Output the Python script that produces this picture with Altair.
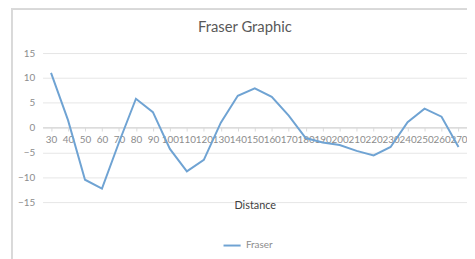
import altair as alt
import pandas as pd

distance = [30, 40, 50, 60, 70, 80, 90, 100, 110, 120, 130, 140, 150, 160, 170,
            180, 190, 200, 210, 220, 230, 240, 250, 260, 270]
fraser = [11, 1.5, -10.5, -12.3, -3, 5.8, 3.1, -4.3, -8.8, -6.5, 1, 6.4, 7.9, 6.2, 2.4,
          -2.1, -3.0, -3.5, -4.7, -5.6, -3.9, 1.1, 3.8, 2.2, -3.9]
series = ["Fraser"] * len(distance)

df = pd.DataFrame({"Distance": [str(d) for d in distance], "Value": fraser, "Series": series})

label_font = "Lato"
grey = "#8c8c8c"

line = alt.Chart(df).mark_line(strokeWidth=2).encode(
    x=alt.X("Distance:N", sort=None,
            scale=alt.Scale(type="point", padding=0.5),
            axis=alt.Axis(title="Distance", offset=-76, labelAngle=0, labelOverlap=False,
                          labelFontSize=10, labelColor=grey, labelFont=label_font,
                          labelPadding=4, domainColor="#d9d9d9", tickColor="#d9d9d9",
                          tickSize=4, ticks=True, bandPosition=0,
                          titlePadding=55, titleFont=label_font, titleFontSize=11,
                          titleFontWeight="normal", titleColor="#404040")),
    y=alt.Y("Value:Q", scale=alt.Scale(domain=[-15, 15], nice=False),
            axis=alt.Axis(title=None, values=[-15, -10, -5, 0, 5, 10, 15], grid=True,
                          gridColor="#e6e6e6", domain=False, ticks=False,
                          labelFontSize=10, labelColor=grey, labelFont=label_font,
                          labelPadding=8)),
    color=alt.Color("Series:N", scale=alt.Scale(range=["#6fa3d3"]),
                    legend=alt.Legend(title=None, orient="none", legendX=182, legendY=185,
                                      symbolType="stroke", symbolStrokeWidth=2, symbolSize=300,
                                      labelFont=label_font, labelFontSize=10, labelColor=grey)),
)

border_left = alt.Chart(df).mark_rule(color="#d9d9d9").encode(
    x=alt.value(-31), y=alt.value(-45), y2=alt.value(210))
border_top = alt.Chart(df).mark_rule(color="#d9d9d9").encode(
    x=alt.value(-31), x2=alt.value(440), y=alt.value(-45))

chart = alt.layer(border_left, border_top, line).properties(
    width=430, height=151,
    autosize=alt.AutoSizeParams(type="none"),
    padding={"left": 35, "top": 44, "right": 0, "bottom": 56},
    title=alt.TitleParams("Fraser Graphic", anchor="middle", frame="group", dx=-10, offset=-27,
                          font=label_font, fontSize=15, fontWeight="normal", color="#595959"),
).configure_view(stroke=None)

chart.save("out.html", embed_options={"renderer": "svg", "actions": False})
